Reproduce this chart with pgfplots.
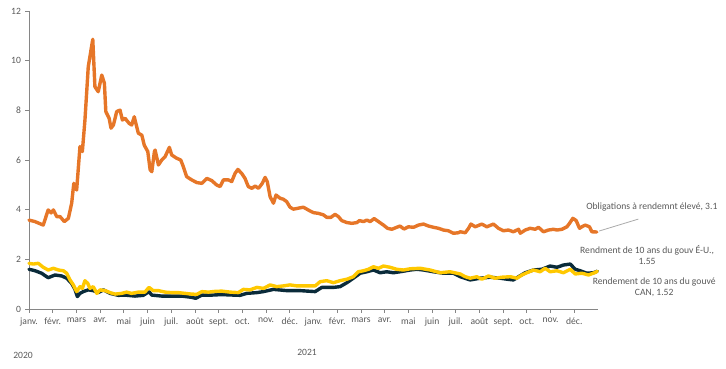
\documentclass[border=0pt]{standalone}
\usepackage{pgfplots}
\pgfplotsset{compat=1.18}
\usepackage{fontspec}
\setmainfont{Carlito}
\definecolor{hyorange}{RGB}{230,118,40}
\definecolor{usyellow}{RGB}{255,200,0}
\definecolor{cannavy}{RGB}{10,43,58}
\definecolor{txtgray}{RGB}{89,89,89}
\definecolor{axgray}{RGB}{134,134,134}
\definecolor{leadgray}{RGB}{170,170,170}
\begin{document}
\begin{tikzpicture}
\useasboundingbox (0,0) rectangle (726bp,369bp);
\begin{axis}[
  at={(29bp,60bp)}, anchor=south west,
  scale only axis, width=569bp, height=298bp,
  xmin=0, xmax=24, ymin=0, ymax=12,
  axis x line*=bottom, axis y line*=left,
  axis line style={axgray, line width=0.8bp},
  x axis line style={-}, y axis line style={-},
  xtick={0,1,...,23},
  xticklabels={janv.,févr.,mars,avr.,mai,juin,juil.,août,sept.,oct.,nov.,déc.,janv.,févr.,mars,avr.,mai,juin,juil.,août,sept.,oct.,nov.,déc.},
  ytick={0,2,...,12},
  tick style={axgray, line width=0.8bp},
  xtick align=outside, ytick align=outside,
  major tick length=3.5bp,
  tick label style={font=\fontsize{9.6bp}{11bp}\selectfont, text=txtgray},
  /pgf/number format/assume math mode=true,
  yticklabel style={xshift=-1bp},
  xticklabel style={yshift=-2bp},
  clip=false,
  every axis plot/.append style={line width=3.4bp, line join=round, line cap=round},
]
% CAN 10y
\addplot[cannavy] coordinates {
(0,1.60)(0.26,1.54)(0.53,1.44)(0.81,1.26)(1.10,1.37)(1.38,1.33)(1.59,1.24)(1.80,1.03)(1.94,0.79)(2.04,0.50)
(2.15,0.63)(2.29,0.70)(2.50,0.77)(2.71,0.74)(2.92,0.66)(3.14,0.77)(3.42,0.63)(3.77,0.55)(4.05,0.56)(4.47,0.52)
(4.82,0.55)(5.06,0.70)(5.18,0.56)(5.60,0.52)(6.02,0.52)(6.44,0.52)(6.86,0.47)(7.03,0.43)(7.29,0.56)(7.71,0.56)
(8.13,0.58)(8.62,0.56)(8.90,0.55)(9.19,0.63)(9.61,0.66)(9.89,0.70)(10.31,0.79)(10.87,0.74)(11.43,0.74)(12.07,0.70)
(12.35,0.87)(12.84,0.87)(13.12,0.90)(13.41,1.06)(13.68,1.24)(13.97,1.44)(14.25,1.50)(14.53,1.57)(14.81,1.46)(15.09,1.50)
(15.37,1.46)(15.65,1.50)(16.08,1.57)(16.36,1.60)(16.64,1.57)(17.06,1.50)(17.48,1.44)(17.90,1.44)(18.19,1.30)(18.61,1.17)
(19.03,1.24)(19.45,1.28)(19.87,1.24)(20.16,1.20)(20.43,1.17)(20.65,1.30)(20.93,1.46)(21.28,1.57)(21.63,1.60)(21.98,1.73)
(22.27,1.68)(22.54,1.77)(22.83,1.81)(23.04,1.60)(23.25,1.54)(23.53,1.44)(23.81,1.46)(23.97,1.52)
};
% US 10y
\addplot[usyellow] coordinates {
(0,1.84)(0.18,1.81)(0.39,1.84)(0.60,1.68)(0.81,1.57)(1.03,1.64)(1.24,1.57)(1.45,1.54)(1.59,1.44)(1.73,1.17)
(1.87,0.97)(2.01,0.70)(2.15,0.90)(2.25,0.83)(2.36,1.14)(2.48,1.03)(2.57,0.83)(2.71,0.90)(2.86,0.63)(3.00,0.77)
(3.21,0.74)(3.42,0.66)(3.63,0.60)(3.91,0.63)(4.12,0.68)(4.33,0.63)(4.61,0.68)(4.89,0.68)(5.06,0.87)(5.24,0.74)
(5.46,0.74)(5.74,0.68)(6.02,0.66)(6.30,0.66)(6.58,0.63)(6.86,0.60)(7.08,0.59)(7.29,0.70)(7.57,0.68)(7.85,0.71)
(8.13,0.72)(8.48,0.68)(8.83,0.66)(9.04,0.79)(9.32,0.77)(9.61,0.87)(9.89,0.83)(10.17,0.97)(10.45,0.90)(10.73,0.93)
(11.01,0.97)(11.30,0.93)(11.72,0.93)(12.07,0.93)(12.28,1.10)(12.56,1.14)(12.84,1.06)(13.12,1.14)(13.41,1.20)(13.68,1.30)
(13.89,1.50)(14.11,1.54)(14.32,1.60)(14.53,1.70)(14.74,1.64)(14.95,1.73)(15.23,1.68)(15.51,1.60)(15.79,1.57)(16.08,1.62)
(16.50,1.64)(16.92,1.57)(17.34,1.46)(17.76,1.50)(18.19,1.41)(18.40,1.30)(18.61,1.24)(18.89,1.30)(19.10,1.20)(19.38,1.33)
(19.66,1.24)(19.95,1.28)(20.30,1.30)(20.58,1.24)(20.79,1.37)(21.00,1.46)(21.28,1.57)(21.56,1.50)(21.77,1.64)(21.98,1.50)
(22.27,1.54)(22.54,1.46)(22.83,1.60)(23.04,1.41)(23.32,1.44)(23.60,1.37)(23.88,1.47)(23.97,1.52)
};
% High yield
\addplot[hyorange] coordinates {
(0,3.58)(0.25,3.52)(0.60,3.38)(0.81,3.99)(0.93,3.87)(1.03,3.99)(1.17,3.72)(1.31,3.72)(1.49,3.52)(1.66,3.65)
(1.80,4.26)(1.89,5.06)(2.01,4.79)(2.15,6.54)(2.25,6.34)(2.36,7.61)(2.50,9.76)(2.69,10.86)(2.78,8.95)(2.92,8.75)
(3.07,9.42)(3.18,9.09)(3.24,7.95)(3.38,7.68)(3.46,7.28)(3.56,7.41)(3.70,7.95)(3.84,8.01)(3.94,7.61)(4.05,7.68)
(4.22,7.48)(4.33,7.41)(4.44,7.74)(4.61,7.08)(4.76,7.00)(4.86,6.60)(5.01,6.34)(5.11,5.60)(5.18,5.53)(5.29,6.34)
(5.32,6.40)(5.46,5.80)(5.60,6.00)(5.74,6.13)(5.92,6.51)(6.02,6.20)(6.23,6.07)(6.40,6.00)(6.51,5.73)(6.65,5.33)
(6.86,5.20)(7.08,5.09)(7.29,5.06)(7.50,5.26)(7.71,5.17)(7.92,4.99)(8.06,4.93)(8.20,5.20)(8.41,5.20)(8.55,5.13)
(8.69,5.46)(8.81,5.62)(8.97,5.46)(9.11,5.26)(9.25,4.93)(9.40,4.86)(9.54,4.95)(9.68,4.86)(9.84,5.06)(9.96,5.30)
(10.05,5.13)(10.17,4.52)(10.31,4.26)(10.42,4.59)(10.59,4.46)(10.73,4.42)(10.87,4.32)(11.01,4.10)(11.15,4.02)(11.36,4.06)
(11.57,4.10)(11.72,4.02)(11.83,3.96)(12.00,3.88)(12.21,3.85)(12.42,3.79)(12.56,3.69)(12.73,3.69)(12.91,3.81)(13.05,3.72)
(13.19,3.56)(13.41,3.48)(13.62,3.45)(13.83,3.48)(13.94,3.56)(14.11,3.52)(14.25,3.58)(14.39,3.52)(14.56,3.64)(14.74,3.52)
(14.95,3.38)(15.12,3.25)(15.30,3.21)(15.51,3.29)(15.65,3.34)(15.82,3.22)(16.00,3.31)(16.22,3.29)(16.43,3.38)(16.64,3.42)
(16.85,3.34)(17.06,3.29)(17.27,3.25)(17.48,3.18)(17.69,3.15)(17.90,3.05)(18.11,3.07)(18.19,3.11)(18.40,3.07)(18.54,3.25)
(18.64,3.42)(18.82,3.31)(19.10,3.42)(19.31,3.31)(19.59,3.42)(19.80,3.25)(20.01,3.15)(20.22,3.18)(20.43,3.11)(20.65,3.21)
(20.72,3.05)(20.93,3.18)(21.14,3.25)(21.35,3.21)(21.49,3.29)(21.70,3.11)(21.91,3.18)(22.12,3.21)(22.27,3.18)(22.48,3.21)
(22.69,3.31)(22.80,3.45)(22.94,3.65)(23.08,3.56)(23.22,3.25)(23.32,3.31)(23.46,3.38)(23.64,3.31)(23.74,3.11)(23.95,3.10)
};
% annotations
\draw[leadgray, line width=0.8bp] (axis cs:24.05,3.14) -- (axis cs:25.7,3.62);
\begin{scope}[every node/.style={font=\fontsize{9.6bp}{11.5bp}\selectfont, text=txtgray, inner sep=0pt}]
\node at (axis cs:26.27,4.12) {Obligations à rendemnt élevé, 3.1};
\node[align=center] at (axis cs:26.07,2.17) {Rendment de 10 ans du gouv É-U.,\\1.55};
\node[align=center] at (axis cs:26.37,0.87) {Rendement de 10 ans du gouvé\\CAN, 1.52};
\node at (axis cs:-0.25,-1.85) {2020};
\node at (axis cs:11.73,-1.73) {2021};
\end{scope}
\end{axis}
\end{tikzpicture}
\end{document}
